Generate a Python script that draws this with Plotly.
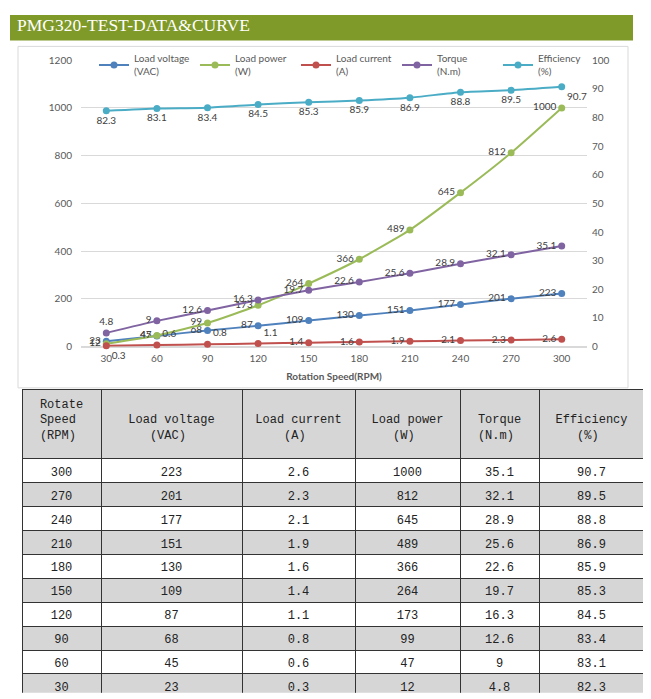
import plotly.graph_objects as go

# page has an 8px body margin: figure is drawn 8px in from the top-left
OFF = 8
FW, FH = 651 - OFF, 699 - OFF

speed = [30, 60, 90, 120, 150, 180, 210, 240, 270, 300]
voltage = [23, 45, 68, 87, 109, 130, 151, 177, 201, 223]
current = [0.3, 0.6, 0.8, 1.1, 1.4, 1.6, 1.9, 2.1, 2.3, 2.6]
power = [12, 47, 99, 173, 264, 366, 489, 645, 812, 1000]
torque = [4.8, 9, 12.6, 16.3, 19.7, 22.6, 25.6, 28.9, 32.1, 35.1]
efficiency = [82.3, 83.1, 83.4, 84.5, 85.3, 85.9, 86.9, 88.8, 89.5, 90.7]

title_text = "PMG320-TEST-DATA&CURVE"
legend_names = ["Load voltage<br>(VAC)", "Load power<br>(W)", "Load current<br>(A)",
                "Torque<br>(N.m)", "Efficiency<br>(%)"]
header_lines = [["Rotate", "Speed", "(RPM)"], ["", "Load voltage", "(VAC)"],
                ["", "Load current", "(A)"], ["", "Load power", "(W)"],
                ["", "Torque", "(N.m)"], ["", "Efficiency", "(%)"]]
colors = ["#4f81bd", "#9bbb59", "#c0504d", "#8064a2", "#4bacc6"]


def px(x):
    return (x - OFF) / FW


def py(y):
    return (FH - (y - OFF)) / FH


def center_pad(lines):
    n = max(len(s) for s in lines)
    out = []
    for s in lines:
        d = n - len(s)
        out.append("&nbsp;" * (d // 2) + s + "&nbsp;" * (d - d // 2))
    return "<br>".join(out)


cats = [str(s) for s in speed]
lab_font = dict(family="Lato", size=10, color="#404040")


def fmt(v):
    return "%g" % v


fig = go.Figure()

series = [
    (voltage, "y", ["middle left"] * 10),
    (power, "y", ["middle left"] * 10),
    (current, "y2", ["bottom right", "top right", "top right", "top right"] + ["middle left"] * 6),
    (torque, "y2", ["top center"] + ["middle left"] * 9),
    (efficiency, "y2", ["bottom center"] * 9 + ["bottom right"]),
]

for (vals, ax, pos), name, col in zip(series, legend_names, colors):
    fig.add_trace(go.Scatter(
        x=cats, y=vals, name=name, yaxis=ax,
        mode="lines+markers+text",
        line=dict(color=col, width=2, shape="spline", smoothing=0.5),
        marker=dict(color=col, size=7),
        text=[fmt(v) for v in vals], textposition=pos, textfont=lab_font,
        cliponaxis=False,
    ))

# table
cols = [speed[::-1], voltage[::-1], current[::-1], power[::-1], torque[::-1], efficiency[::-1]]
cell_vals = [[fmt(v) for v in c] for c in cols]
fills = ["#ffffff" if i % 2 == 0 else "#d6d6d6" for i in range(10)]
fig.add_trace(go.Table(
    domain=dict(x=[px(22), px(644)], y=[0, py(390)]),
    columnwidth=[79, 141, 113, 105, 79, 105],
    header=dict(values=[center_pad(h) for h in header_lines], fill_color="#d6d6d6",
                line=dict(color="#333333", width=1),
                font=dict(family="Liberation Mono", size=12, color="#222222"),
                align="center", height=69),
    cells=dict(values=cell_vals, fill_color=[fills] * 6, line=dict(color="#333333", width=1),
               font=dict(family="Liberation Mono", size=12, color="#222222"),
               align="center", height=23.9),
))

tick_font = dict(family="Lato", size=10, color="#595959")

fig.update_layout(
    width=FW, height=FH, margin=dict(l=0, r=0, t=0, b=0),
    paper_bgcolor="white", plot_bgcolor="white",
    showlegend=True,
    legend=dict(orientation="h", x=px(94), y=py(39), xanchor="left", yanchor="top",
                font=dict(family="Lato", size=10, color="#595959"),
                bgcolor="rgba(0,0,0,0)", itemwidth=30, entrywidth=56, tracegroupgap=0),
    xaxis=dict(domain=[px(81), px(587)], type="category", range=[-0.5, 9.5],
               showgrid=False, showline=False, ticks="", tickfont=tick_font,
               ticklabelstandoff=4,
               title=dict(text="<b>Rotation Speed(RPM)</b>", standoff=10,
                          font=dict(family="Lato", size=10, color="#595959")),
               anchor="y"),
    yaxis=dict(domain=[py(346), py(54)], range=[0, 1200], dtick=200,
               gridcolor="#d9d9d9", gridwidth=1, zeroline=True, zerolinecolor="#d9d9d9",
               showline=False, ticks="", tickfont=tick_font, ticklabelstandoff=8),
    yaxis2=dict(overlaying="y", side="right", range=[0, 100], dtick=10, showgrid=False,
                zeroline=False, showline=False, ticks="", tickfont=tick_font,
                ticklabelstandoff=4),
    shapes=[
        dict(type="rect", xref="paper", yref="paper", x0=px(10), x1=px(633), y0=py(34), y1=1,
             fillcolor="#7f9a29", line=dict(width=0), layer="below"),
        dict(type="rect", xref="paper", yref="paper", x0=px(18), x1=px(628), y0=py(388), y1=py(40),
             fillcolor="rgba(0,0,0,0)", line=dict(color="#d9d9d9", width=1), layer="below"),
    ],
    annotations=[
        dict(text=title_text, xref="paper", yref="paper", x=px(15), y=py(18), xanchor="left",
             yanchor="middle", showarrow=False,
             font=dict(family="Liberation Serif", size=17.5, color="white")),
    ],
)

fig.write_html("out.html")
